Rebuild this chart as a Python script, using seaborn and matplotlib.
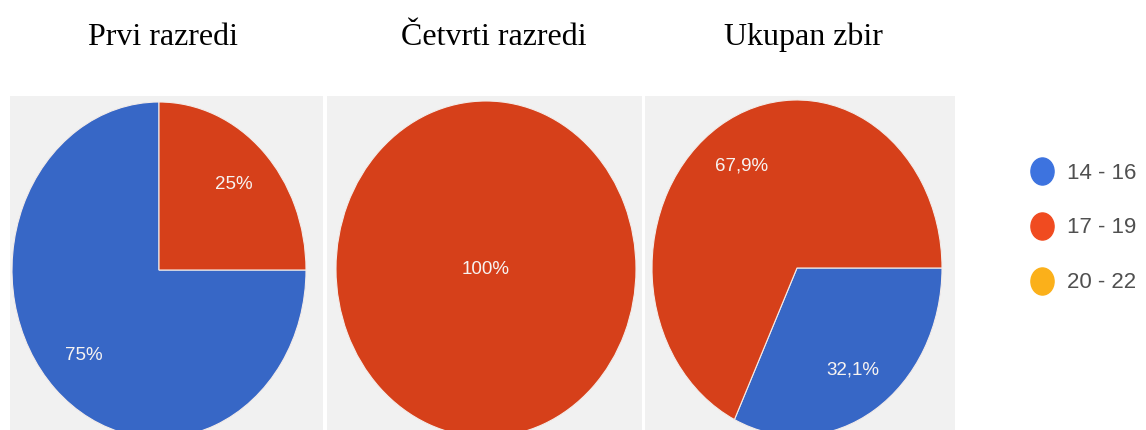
import matplotlib
matplotlib.use("Agg")
import matplotlib.pyplot as plt
from matplotlib.lines import Line2D
from matplotlib.path import Path
from matplotlib.transforms import Affine2D
import seaborn as sns

# ---- data ----
age_groups = ["14 - 16", "17 - 19", "20 - 22"]
titles = ["Prvi razredi", "Četvrti razredi", "Ukupan zbir"]
prvi_razredi = [75.0, 25.0, 0.0]
cetvrti_razredi = [0.0, 100.0, 0.0]
ukupan_zbir = [32.1, 67.9, 0.0]
series = [prvi_razredi, cetvrti_razredi, ukupan_zbir]

# ---- style ----
pie_colors = ["#3767c6", "#d6401a", "#f4a51c"]
legend_colors = ["#3d73df", "#f04b20", "#fbb01a"]

sns.set_theme(style="white")
plt.rcParams["font.family"] = ["Liberation Sans", "DejaVu Sans"]

W, H = 1146, 430
fig = plt.figure(figsize=(W / 100, H / 100), dpi=100)

# panel geometry in pixels: left, right, top, bottom, centre x, centre y, rx, ry
panels = [
    (10, 323, 96, 430, 159, 270, 147, 168),
    (327, 642, 96, 430, 486, 269, 150, 168),
    (645, 955, 96, 430, 797, 268, 145, 168),
]
title_x = [163, 494, 803]
title_baseline = 45


def fmt(p):
    if abs(p - round(p)) < 0.05:
        return f"{int(round(p))}%"
    return f"{p:.1f}".replace(".", ",") + "%"


for values, title, geo, tx in zip(series, titles, panels, title_x):
    l, r, t, b, cx, cy, rx, ry = geo
    ax = fig.add_axes([l / W, (H - b) / H, (r - l) / W, (b - t) / H])
    vals = [v for v in values if v > 0]
    cols = [c for v, c in zip(values, pie_colors) if v > 0]
    pd = 0.0 if len(vals) == 1 else 0.72
    ax.pie(vals, colors=cols, startangle=0, counterclock=False,
           autopct=fmt, pctdistance=pd,
           wedgeprops=dict(edgecolor="#f3ece9", linewidth=0.8),
           textprops=dict(color="#f7f3f1", fontsize=13.5),
           frame=True)
    ax.set_aspect("auto")
    ax.set_xlim((l - cx) / rx, (r - cx) / rx)
    ax.set_ylim((cy - b) / ry, (cy - t) / ry)
    ax.set_facecolor("#f1f1f1")
    ax.set_xticks([])
    ax.set_yticks([])
    for sp in ax.spines.values():
        sp.set_visible(False)
    fig.text(tx / W, 1 - title_baseline / H, title, ha="center", va="baseline",
             fontsize=23, family=["Liberation Serif", "DejaVu Serif"], color="black")

# legend with slightly tall oval markers
oval = Path.unit_circle().transformed(Affine2D().scale(1.0, 1.17))
handles = [Line2D([], [], marker=oval, linestyle="", markersize=19.5,
                  markerfacecolor=c, markeredgecolor=c) for c in legend_colors]
fig.legend(handles, age_groups, loc="center left",
           bbox_to_anchor=(1031 / W, 1 - 228 / H), frameon=False,
           fontsize=16, labelcolor="#505050", labelspacing=1.52,
           handletextpad=0.6, handlelength=1.0, borderpad=0, borderaxespad=0)

fig.savefig("out.png", dpi=100)
